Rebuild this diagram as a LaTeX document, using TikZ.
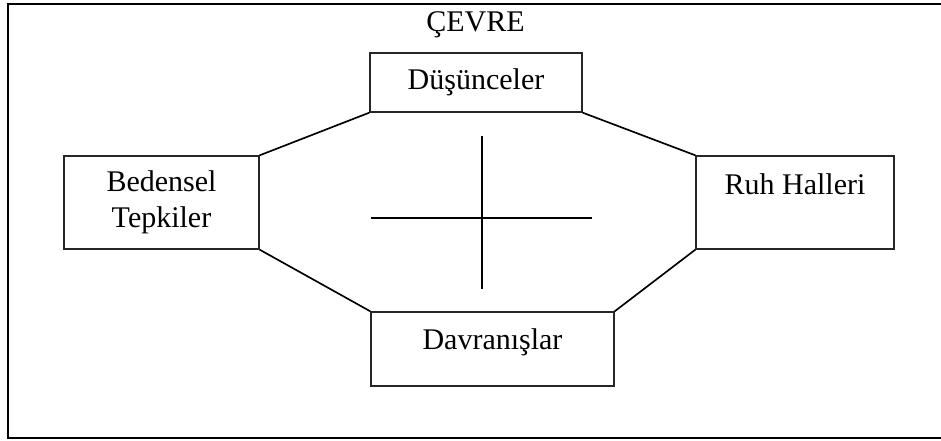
\documentclass[tikz,border=0pt]{standalone}
\usepackage{fontspec}
\setmainfont{Liberation Serif}

\begin{document}
\begin{tikzpicture}[x=0.6pt,y=-0.6pt,
  every node/.style={font=\fontsize{18}{21.6}\selectfont},
  kutu/.style={draw=black!85,line width=0.8pt,rectangle,inner xsep=0pt,inner ysep=0pt},
  bag/.style={line width=1pt}]

\clip (0,0) rectangle (941,441);
\draw[line width=1.3pt] (8,4) rectangle (948,438);

\node[anchor=base] (cevre) at (475.5,32) {ÇEVRE};

\node[kutu,minimum width=127.2pt,text height=22.2pt,text depth=13.2pt] (dus) at (476,82.5) {Düşünceler};
\node[kutu,align=center,minimum width=117pt,minimum height=55.8pt] (bed) at (161.5,202.5) {Bedensel\\Tepkiler};
\node[kutu,align=center,minimum width=118.8pt,minimum height=55.8pt] (ruh) at (795,202.5) {Ruh Halleri\\\mbox{}};
\node[kutu,minimum width=145.8pt,text height=22.8pt,text depth=21.6pt] (dav) at (492.5,349) {Davranışlar};

\foreach \a/\b in {dus.south west/bed.north east,dus.south east/ruh.north west,
                   bed.south east/dav.north west,ruh.south west/dav.north east}
  \draw[bag] (\a) -- (\b);

% arti
\coordinate (ust) at (482,136);
\coordinate (alt) at (482,289);
\coordinate (sol) at (371,218);
\coordinate (sag) at (592,218);
\draw[line width=1.2pt] (ust) -- (alt);
\draw[line width=1.2pt] (sol) -- (sag);

\end{tikzpicture}
\end{document}
